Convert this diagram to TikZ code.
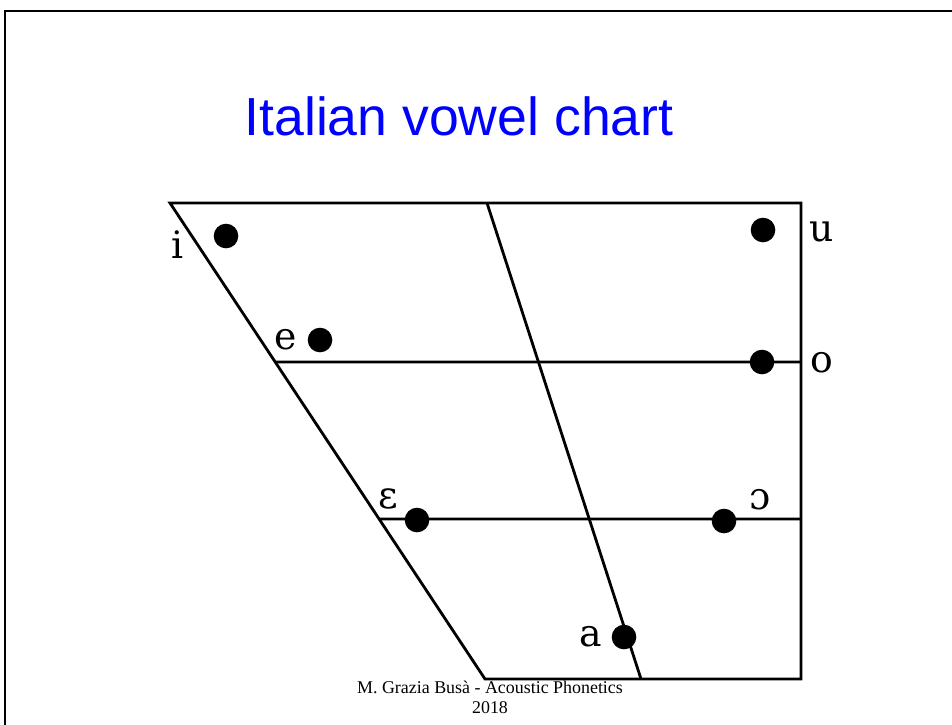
\documentclass[tikz,border=0pt]{standalone}
\usepackage{fontspec}
\usepackage{tikz}
\usetikzlibrary{positioning, calc}
\newfontfamily\titlefont{Liberation Sans}
\newfontfamily\ipafont{DejaVu Serif}
\newfontfamily\footfont{Liberation Serif}
\definecolor{titleblue}{RGB}{0,0,255}

\begin{document}
\begin{tikzpicture}[x=0.02cm, y=-0.02cm,
      edge/.style={line width=1.6pt, black},
      vdot/.style={circle, fill=black, minimum size=14pt, inner sep=0pt},
      vlbl/.style={font=\ipafont\fontsize{21.5}{21.5}\selectfont, inner sep=0pt},
    ]
      \useasboundingbox (0,0) rectangle (952,724);
      % slide frame
      \draw[line width=1.7pt] (960,11) -- (5,11) -- (5,730);
      % title
      \node[font=\titlefont\fontsize{30.5}{30.5}\selectfont, text=titleblue] (title) at (459,116) {Italian vowel chart};
      % chart corners
      \coordinate (tl) at (170,203);
      \coordinate (tr) at (801,203);
      \coordinate (bl) at (485,679);
      \coordinate (br) at (801,679);
      \coordinate (tc) at (487,203);
      \coordinate (bc) at (641,679);
      \coordinate (ml) at ($(tl)!0.334!(bl)$);
      \coordinate (mr) at (801,362);
      \coordinate (ll) at ($(tl)!0.664!(bl)$);
      \coordinate (lr) at (801,519);
      % trapezium
      \draw[edge] (tl) -- (tr) -- (br) -- (bl) -- cycle;
      \draw[edge] (tc) -- (bc);
      \draw[edge] (ml) -- (mr);
      \draw[edge] (ll) -- (lr);
      % vowels
      \node[vdot] (i) at (226,236) {};
      \node[vdot] (u) at (763,230) {};
      \node[vdot] (e) at (320,340) {};
      \node[vdot] (o) at (762,362) {};
      \node[vdot] (eps) at (417,520) {};
      \node[vdot] (oo) at (724,521) {};
      \node[vdot] (a) at (624,637) {};
      \node[vlbl] (il) at (178,245) {i};
      \node[vlbl] (ul) at (822,232) {u};
      \node[vlbl] (el) at (286,340) {e};
      \node[vlbl] (ol) at (822,363) {o};
      \node[vlbl] (epsl) at (388,499) {ɛ};
      \node[vlbl] (ool) at (760,500) {ɔ};
      \node[vlbl] (al) at (591,637) {a};
      % footer
      \node[font=\footfont\fontsize{10.2}{11.5}\selectfont, align=center] (foot) at (490,697) {M. Grazia Busà - Acoustic Phonetics\\2018};
    \end{tikzpicture}
\end{document}
